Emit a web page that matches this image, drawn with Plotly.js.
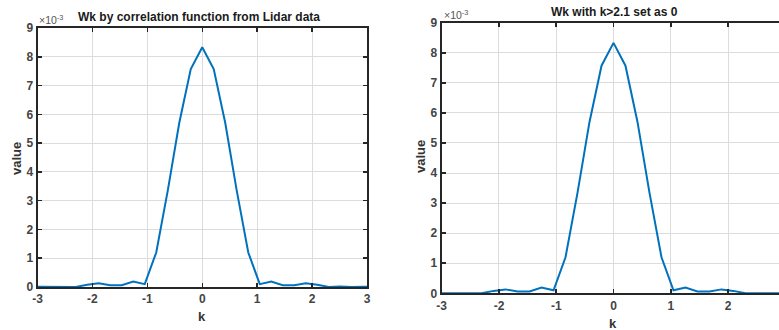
<!DOCTYPE html>
<html>
<head>
<meta charset="utf-8">
<script src="https://cdn.plot.ly/plotly-3.0.1.min.js"></script>
<style>
  html, body { margin: 0; padding: 0; background: #fff; }
  #chart { width: 779px; height: 330px; }
</style>
</head>
<body>
<div id="chart"></div>
<script>
// k sample positions
const kValues = [-3.142, -2.932, -2.723, -2.513, -2.304, -2.094, -1.885, -1.676, -1.466, -1.257, -1.047,
  -0.838, -0.628, -0.419, -0.209, 0, 0.209, 0.419, 0.628, 0.838,
  1.047, 1.257, 1.466, 1.676, 1.885, 2.094, 2.304, 2.513, 2.723, 2.932, 3.142];
// Wk values in units of 1e-3 (left: from Lidar correlation function)
const wkLidar = [0.01, 0.01, 0.00, 0.02, 0.00, 0.08, 0.13, 0.06, 0.06, 0.19, 0.10,
  1.20, 3.35, 5.70, 7.57, 8.33, 7.57, 5.70, 3.35, 1.20,
  0.10, 0.19, 0.06, 0.06, 0.13, 0.08, 0.00, 0.02, 0.00, 0.01, 0.01];
// Wk values in units of 1e-3 with k > 2.1 set as 0
const wkCut = [0, 0, 0, 0, 0, 0.08, 0.13, 0.06, 0.06, 0.19, 0.10,
  1.20, 3.35, 5.70, 7.57, 8.33, 7.57, 5.70, 3.35, 1.20,
  0.10, 0.19, 0.06, 0.06, 0.13, 0.08, 0, 0, 0, 0, 0];
const xTicks = [-3, -2, -1, 0, 1, 2, 3];
const yTicks = [0, 1, 2, 3, 4, 5, 6, 7, 8, 9];
const titles = ['Wk by correlation function from Lidar data', 'Wk with k>2.1 set as 0'];

const W = 779, H = 330;
const px = x => x / W;
const py = y => 1 - y / H;

const lineColor = '#0072BD';
const axisColor = '#262626';
const gridColor = '#dcdcdc';
const tickFont = { family: 'Liberation Sans, Arial, sans-serif', size: 12, color: '#444444', weight: 'bold' };

function axisBase(extra) {
  return Object.assign({
    showline: true, linecolor: axisColor, linewidth: 2,
    ticks: 'inside', ticklen: 4, tickwidth: 1.5, tickcolor: axisColor,
    showgrid: true, gridcolor: gridColor, gridwidth: 1,
    zeroline: false, tickfont: tickFont, fixedrange: true
  }, extra);
}

const traces = [
  { x: kValues, y: wkLidar, type: 'scatter', mode: 'lines', xaxis: 'x', yaxis: 'y',
    line: { color: lineColor, width: 2 }, showlegend: false, hoverinfo: 'skip' },
  { x: kValues, y: wkCut, type: 'scatter', mode: 'lines', xaxis: 'x2', yaxis: 'y2',
    line: { color: lineColor, width: 2 }, showlegend: false, hoverinfo: 'skip' }
];

const annFontBold = { family: 'Liberation Sans, Arial, sans-serif', size: 12, color: '#1a1a1a', weight: 'bold' };
const labelFont = { family: 'Liberation Sans, Arial, sans-serif', size: 13, color: '#333333', weight: 'bold' };
const expFont = { family: 'Liberation Sans, Arial, sans-serif', size: 10.5, color: '#555555' };

const layout = {
  width: W, height: H,
  margin: { l: 0, r: 0, t: 0, b: 0 },
  paper_bgcolor: '#ffffff', plot_bgcolor: '#ffffff',
  showlegend: false,
  xaxis: axisBase({ domain: [px(37.5), px(367)], range: [-3, 3], tickvals: xTicks, ticktext: xTicks.map(String), mirror: 'ticks', anchor: 'y' }),
  yaxis: axisBase({ domain: [py(287), py(28)], range: [0, 9], tickvals: yTicks, ticktext: yTicks.map(String), mirror: 'ticks', anchor: 'x' }),
  xaxis2: axisBase({ domain: [px(441.7), 1], range: [-3, 2.89], tickvals: xTicks, ticktext: xTicks.map(String), mirror: 'ticks', anchor: 'y2' }),
  yaxis2: axisBase({ domain: [py(293.3), py(22.7)], range: [0, 9], tickvals: yTicks, ticktext: yTicks.map(String), mirror: false, anchor: 'x2' }),
  annotations: [
    { text: titles[0], xref: 'paper', yref: 'paper', x: px(199), y: py(17), xanchor: 'center', yanchor: 'middle', showarrow: false, font: annFontBold },
    { text: titles[1], xref: 'paper', yref: 'paper', x: px(614), y: py(12), xanchor: 'center', yanchor: 'middle', showarrow: false, font: annFontBold },
    { text: '×10<sup>-3</sup>', xref: 'paper', yref: 'paper', x: px(37), y: py(19), xanchor: 'left', yanchor: 'middle', showarrow: false, font: expFont },
    { text: '×10<sup>-3</sup>', xref: 'paper', yref: 'paper', x: px(442), y: py(14), xanchor: 'left', yanchor: 'middle', showarrow: false, font: expFont },
    { text: 'value', xref: 'paper', yref: 'paper', x: px(16), y: py(158), xanchor: 'center', yanchor: 'middle', textangle: -90, showarrow: false, font: labelFont },
    { text: 'value', xref: 'paper', yref: 'paper', x: px(420), y: py(157), xanchor: 'center', yanchor: 'middle', textangle: -90, showarrow: false, font: labelFont },
    { text: 'k', xref: 'paper', yref: 'paper', x: px(202), y: py(316), xanchor: 'center', yanchor: 'middle', showarrow: false, font: labelFont },
    { text: 'k', xref: 'paper', yref: 'paper', x: px(613), y: py(323), xanchor: 'center', yanchor: 'middle', showarrow: false, font: labelFont }
  ]
};

Plotly.newPlot('chart', traces, layout, { displayModeBar: false, staticPlot: true });
</script>
</body>
</html>
